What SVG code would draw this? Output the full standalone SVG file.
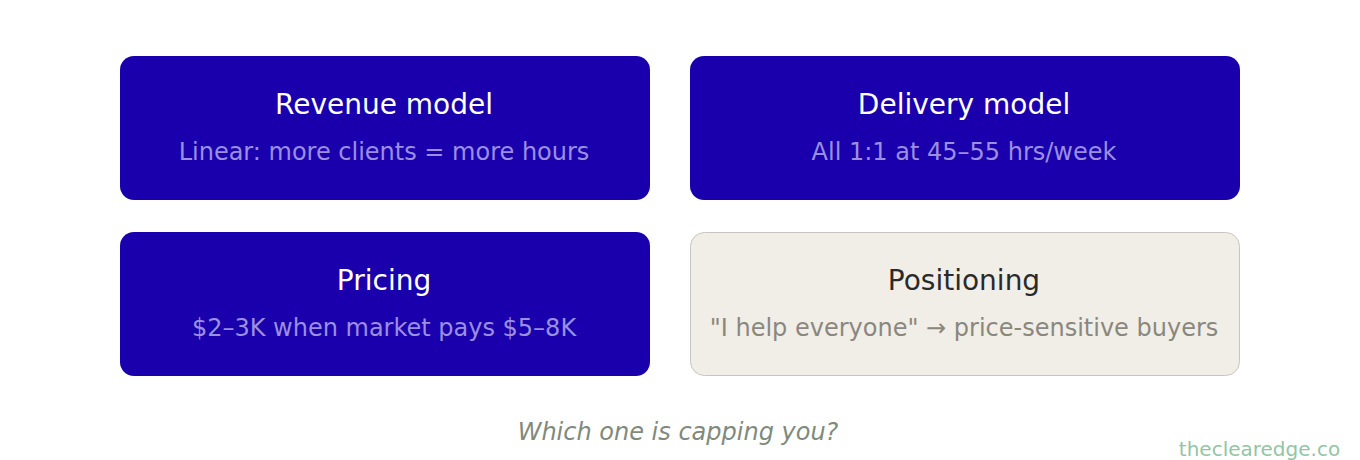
<svg xmlns="http://www.w3.org/2000/svg" width="1360" height="460" viewBox="0 0 1360 460">
<style>
.dark{fill:#1a00ad}
.light{fill:#f1eee7;stroke:#c8c5bc;stroke-width:1}
text{font-family:"DejaVu Sans",sans-serif;text-anchor:middle}
.t{font-size:28px;fill:#ffffff}
.s{font-size:24px;fill:#9a8fe0}
.tl{font-size:28px;fill:#2a2a2a}
.sl{font-size:24px;fill:#8a877f}
</style>
<rect width="1360" height="460" fill="#ffffff"/>
<g id="revenue"><rect class="dark" x="120" y="56" width="530" height="144" rx="14"/><text class="t" x="384" y="114">Revenue model</text><text class="s" x="384" y="160">Linear: more clients = more hours</text></g>
<g id="delivery"><rect class="dark" x="690" y="56" width="550" height="144" rx="14"/><text class="t" x="964" y="114">Delivery model</text><text class="s" x="964" y="160">All 1:1 at 45–55 hrs/week</text></g>
<g id="pricing"><rect class="dark" x="120" y="232" width="530" height="144" rx="14"/><text class="t" x="384" y="290">Pricing</text><text class="s" x="384" y="336">$2–3K when market pays $5–8K</text></g>
<g id="positioning"><rect class="light" x="690.5" y="232.5" width="549" height="143" rx="14"/><text class="tl" x="964" y="290">Positioning</text><text class="sl" x="964" y="336">"I help everyone" → price-sensitive buyers</text></g>
<g id="connectors"/>
<text x="678" y="440" style="font-size:24px;font-style:italic;fill:#7f8a7c">Which one is capping you?</text>
<text x="1259.5" y="456" style="font-size:20px;fill:#95c4a4">theclearedge.co</text>
</svg>
